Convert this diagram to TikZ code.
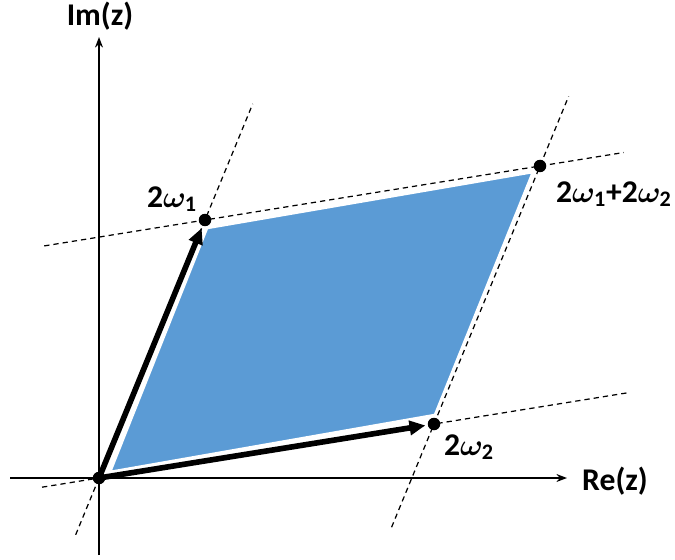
\documentclass[tikz,border=0pt]{standalone}
\usepackage{amsmath}
\usepackage{bm}
\usepackage{fontspec}
\setmainfont{Carlito}
\usetikzlibrary{arrows.meta,calc}
\definecolor{cellblue}{HTML}{5B9BD5}
\newcommand{\wlabel}[1]{2$\bm{\omega}_{\text{\bfseries #1}}$}
\tikzset{
  axis/.style={-{Stealth[length=6pt,width=4.5pt]}, line width=1pt},
  lattice/.style={dash pattern=on 3pt off 2.3pt, line width=0.7pt},
  period/.style={-{Triangle[length=9pt,width=8pt]}, line width=3.2pt, shorten >=5pt},
  pt/.style={circle, fill=black, inner sep=0pt, minimum size=0.25cm},
  lbl/.style={font=\fontsize{18}{20}\selectfont\bfseries}
}

\begin{document}
\begin{tikzpicture}[x=0.02cm, y=-0.02cm]
\useasboundingbox (0,0) rectangle (675,560);
\coordinate (O) at (99,478);
\coordinate (A) at (205,220);
\coordinate (B) at (434,424);
\coordinate (C) at (540,166);
\coordinate (xl) at (10,478);
\coordinate (xr) at (567,478);
\coordinate (yb) at (99,555);
\coordinate (yt) at (99,37);
% axes
\draw[axis] (xl) -- (xr);
\draw[axis] (yb) -- (yt);
\node[lbl] (re) at (615,481) {Re(z)};
\node[lbl] (im) at (100,16) {Im(z)};
% lattice lines
\draw[lattice] ($(O)!-0.22!(A)$) -- ($(O)!1.45!(A)$);
\draw[lattice] ($(B)!-0.40!(C)$) -- ($(B)!1.27!(C)$);
\draw[lattice] ($(O)!-0.17!(B)$) -- ($(O)!1.58!(B)$);
\draw[lattice] ($(A)!-0.48!(C)$) -- ($(A)!1.25!(C)$);
% fundamental cell
\fill[cellblue, draw=white, line width=1.5pt] (110,472) -- (207,228) -- (533,172) -- (435,415) -- cycle;
% periods
\draw[period] (O) -- (A);
\draw[period] (O) -- (B);
\node[pt] (o) at (O) {};
\node[pt] (a) at (A) {};
\node[pt] (b) at (B) {};
\node[pt] (c) at (C) {};
\node[lbl] (la) at (172,199) {\wlabel{1}};
\node[lbl] (lb) at (469,447) {\wlabel{2}};
\node[lbl] (lc) at (614,194) {\wlabel{1}+\wlabel{2}};
\end{tikzpicture}
\end{document}
